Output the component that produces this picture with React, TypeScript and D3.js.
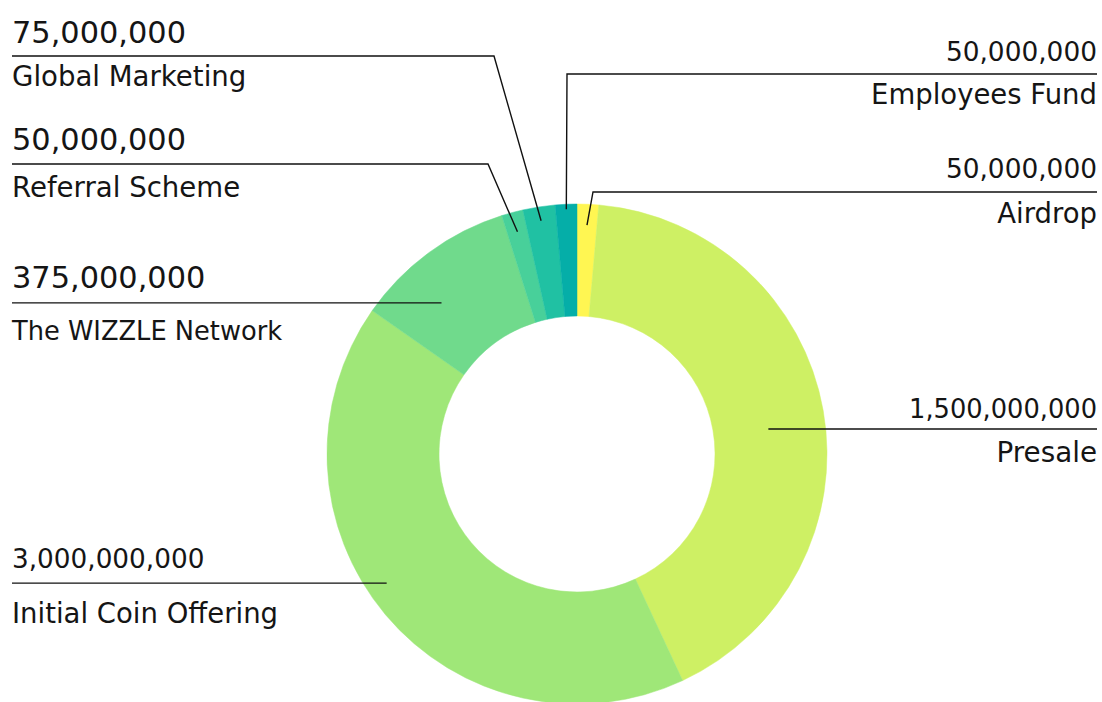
import React from "react";
import * as d3 from "d3";

// ---- data ----
const categories = [
  "Airdrop",
  "Presale",
  "Initial Coin Offering",
  "The WIZZLE Network",
  "Referral Scheme",
  "Global Marketing",
  "Employees Fund",
];
// slice sizes as drawn (millions of coins)
const sliceValues = [50, 1500, 1500, 375, 50, 75, 50];
// amount texts as printed next to each slice
const amountLabels = [
  "50,000,000",
  "1,500,000,000",
  "3,000,000,000",
  "375,000,000",
  "50,000,000",
  "75,000,000",
  "50,000,000",
];
const sliceColors = ["#FFF652", "#CEF064", "#9FE778", "#70DA8C", "#48D09A", "#20C1A3", "#05AEA8"];

// ---- layout ----
const W = 1102;
const H = 702;
const cx = 577;
const cy = 454;
const rOuter = 250;
const rInner = 138;
const leftX = 12;
const rightX = 1097;

type Layout = {
  side: "left" | "right";
  frac: number;
  r: number;
  lineY?: number;
  elbowX?: number;
  numSize: number;
  numDy: number;
  labDy: number;
  labSize: number;
};

const labelLayout: Layout[] = [
  { side: "right", frac: 0.5, r: 229, lineY: 192, elbowX: 593, numSize: 26.4, numDy: -14, labDy: 31, labSize: 27.5 },
  { side: "right", frac: 0.517, r: 193, numSize: 25.7, numDy: -11, labDy: 33, labSize: 27.8 },
  { side: "left", frac: 0.539, r: 230, numSize: 26.3, numDy: -15, labDy: 40, labSize: 27.5 },
  { side: "left", frac: 0.35, r: 203, numSize: 30.4, numDy: -15, labDy: 37, labSize: 25.7 },
  { side: "left", frac: 0.5, r: 230, lineY: 164, elbowX: 488, numSize: 30.4, numDy: -14, labDy: 33, labSize: 27.6 },
  { side: "left", frac: 0.5, r: 236, lineY: 56, elbowX: 494, numSize: 30.4, numDy: -13, labDy: 30, labSize: 27.6 },
  { side: "right", frac: 0.5, r: 245, lineY: 74, elbowX: 567, numSize: 26.4, numDy: -13, labDy: 30, labSize: 27.5 },
];

export default function App() {
  const pie = d3
    .pie<number>()
    .sort(null)
    .value((d) => d)
    .startAngle(0)
    .endAngle(2 * Math.PI);
  const arcs = pie(sliceValues);
  const arc = d3.arc<d3.PieArcDatum<number>>().innerRadius(rInner).outerRadius(rOuter);

  const font = "'DejaVu Sans', sans-serif";

  return (
    <svg
      width={W}
      height={H}
      viewBox={`0 0 ${W} ${H}`}
      style={{ position: "absolute", left: 0, top: 0, display: "block", background: "#fff" }}
    >
      <g transform={`translate(${cx},${cy})`}>
        {arcs.map((a, i) => (
          <path key={i} d={arc(a) || ""} fill={sliceColors[i]} stroke={sliceColors[i]} strokeWidth={0.5} />
        ))}
      </g>
      {arcs.map((a, i) => {
        const L = labelLayout[i];
        const ang = a.startAngle + L.frac * (a.endAngle - a.startAngle);
        const ax = cx + L.r * Math.sin(ang);
        const ay = cy - L.r * Math.cos(ang);
        const lineY = L.lineY ?? ay;
        const elbowX = L.elbowX ?? ax;
        const pts: [number, number][] =
          L.side === "left"
            ? [
                [leftX, lineY],
                [elbowX, lineY],
                [ax, ay],
              ]
            : [
                [rightX, lineY],
                [elbowX, lineY],
                [ax, ay],
              ];
        const line = d3.line()(pts) || "";
        const tx = L.side === "left" ? leftX : rightX;
        const anchor = L.side === "left" ? "start" : "end";
        return (
          <g key={i}>
            <path d={line} fill="none" stroke="#111" strokeWidth={1.4} />
            <text
              x={tx}
              y={lineY + L.numDy}
              textAnchor={anchor}
              fontFamily={font}
              fontSize={L.numSize}
              fill="#151515"
            >
              {amountLabels[i]}
            </text>
            <text
              x={tx}
              y={lineY + L.labDy}
              textAnchor={anchor}
              fontFamily={font}
              fontSize={L.labSize}
              fill="#151515"
            >
              {categories[i]}
            </text>
          </g>
        );
      })}
    </svg>
  );
}
